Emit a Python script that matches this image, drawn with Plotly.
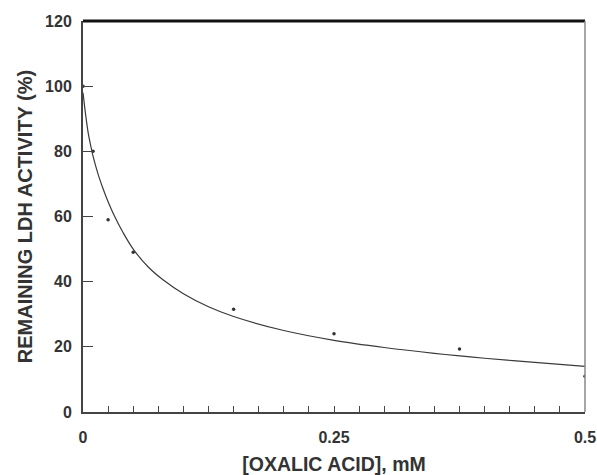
import plotly.graph_objects as go

# Measured remaining LDH activity at each oxalic acid concentration
conc_mM = [0.0, 0.01, 0.025, 0.05, 0.15, 0.25, 0.375, 0.5]
activity_pct = [100, 80, 59, 49, 31.5, 24, 19.3, 11]

# Fitted inhibition curve
fit_conc = [0.0, 0.0025, 0.005, 0.0075, 0.01, 0.015, 0.02, 0.025, 0.03, 0.04,
            0.05, 0.065, 0.08, 0.1, 0.125, 0.15, 0.2, 0.25, 0.3, 0.35,
            0.4, 0.45, 0.5]
fit_activity = [98, 91.5, 86, 82, 78.5, 73, 68.5, 64.5, 61, 55,
                50, 44.5, 40.5, 36.3, 32.3, 29.3, 25, 22, 19.8, 18,
                16.5, 15.2, 14]

x_ticks = [0, 0.25, 0.5]
x_tick_text = ["0", "0.25", "0.5"]
y_ticks = [0, 20, 40, 60, 80, 100, 120]

ink = "#333333"
font_family = "Liberation Sans, Arial, sans-serif"

fig = go.Figure()
fig.add_trace(go.Scatter(
    x=fit_conc, y=fit_activity, mode="lines",
    line=dict(color="#3a3a3a", width=1.2, shape="spline", smoothing=1),
    showlegend=False, hoverinfo="skip",
))
fig.add_trace(go.Scatter(
    x=conc_mM, y=activity_pct, mode="markers",
    marker=dict(color="#333333", size=3.5, symbol="circle"),
    showlegend=False,
))

fig.update_layout(
    width=597, height=475,
    margin=dict(l=83, r=12, t=21, b=63),
    paper_bgcolor="white", plot_bgcolor="white",
    font=dict(family=font_family, color=ink, size=16, weight="bold"),
    xaxis=dict(
        range=[0, 0.5], tickvals=x_ticks, ticktext=x_tick_text,
        automargin=False, ticklabeloverflow="allow",
        ticks="inside", ticklen=6, tickwidth=1, tickcolor="#444",
        minor=dict(dtick=0.025, ticks="inside", ticklen=6, tickwidth=1, tickcolor="#444"),
        showgrid=False, zeroline=False,
        showline=True, linecolor="#444", linewidth=1.5,
        ticklabelstandoff=10,
        title=dict(text="[OXALIC ACID], mM",
                   font=dict(size=19.5, weight="bold"), standoff=16),
        tickfont=dict(size=16, weight="bold"),
    ),
    yaxis=dict(
        range=[0, 120], tickvals=y_ticks,
        automargin=False,
        ticks="inside", ticklen=10, tickwidth=1, tickcolor="#444",
        showgrid=False, zeroline=False,
        showline=True, linecolor="#444", linewidth=2,
        ticklabelstandoff=6,
        title=dict(text="REMAINING LDH ACTIVITY (%)",
                   font=dict(size=20, weight="bold"), standoff=7),
        tickfont=dict(size=16, weight="bold"),
    ),
    shapes=[
        dict(type="line", xref="paper", yref="paper", x0=0, x1=1, y0=1, y1=1,
             line=dict(color="#111", width=3)),
        dict(type="line", xref="paper", yref="paper", x0=1, x1=1, y0=0, y1=1,
             line=dict(color="#888", width=1.5)),
    ],
)

fig.write_html("out.html")
